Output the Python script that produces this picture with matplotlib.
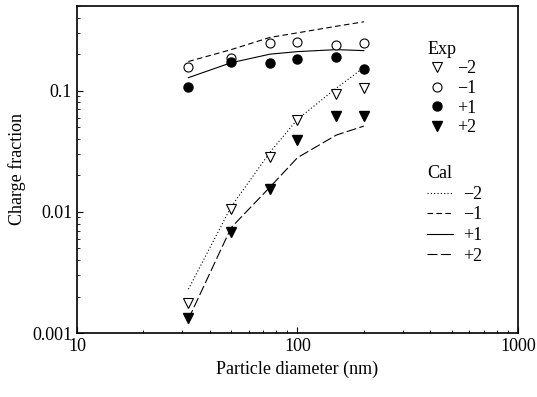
import numpy as np
import matplotlib
matplotlib.use("Agg")
import matplotlib.pyplot as plt
from matplotlib.lines import Line2D

plt.rcParams["font.family"] = ["Liberation Serif", "DejaVu Serif"]

diameter = [32, 50, 75, 100, 150, 200]

# experimental charge fractions
exp_m2 = [0.00177, 0.0106, 0.0285, 0.0575, 0.093, 0.105]
exp_m1 = [0.158, 0.185, 0.249, 0.254, 0.24, 0.245]
exp_p1 = [0.108, 0.174, 0.17, 0.184, 0.19, 0.152]
exp_p2 = [0.00133, 0.0068, 0.0155, 0.039, 0.062, 0.062]

# calculated charge fractions
cal_m2 = [0.0023, 0.011, 0.031, 0.058, 0.105, 0.155]
cal_m1 = [0.174, 0.218, 0.275, 0.30, 0.34, 0.37]
cal_p1 = [0.128, 0.17, 0.20, 0.21, 0.218, 0.214]
cal_p2 = [0.0013, 0.0074, 0.016, 0.028, 0.043, 0.051]

fig = plt.figure(figsize=(5.37, 3.97), dpi=100)
ax = fig.add_axes([0.1434, 0.1612, 0.8212, 0.8238])

ax.plot(diameter, cal_m2, color="black", lw=0.8, ls=(0, (1, 2)))
ax.plot(diameter, cal_m1, color="black", lw=0.8, ls=(0, (5, 3)))
ax.plot(diameter, cal_p1, color="black", lw=0.8, ls="-")
ax.plot(diameter, cal_p2, color="black", lw=0.8, ls=(0, (9, 3)))

ms = 6.5
ax.plot(diameter, exp_m2, "v", mfc="white", mec="black", mew=0.8, ms=ms, ls="none")
ax.plot(diameter, exp_m1, "o", mfc="white", mec="black", mew=0.8, ms=ms, ls="none")
ax.plot(diameter, exp_p1, "o", mfc="black", mec="black", ms=ms, ls="none")
ax.plot(diameter, exp_p2, "v", mfc="black", mec="black", ms=ms, ls="none")

ax.set_xscale("log")
ax.set_yscale("log")
ax.set_xlim(10, 1000)
ax.set_ylim(0.001, 0.5)
ax.set_xticks([10, 100, 1000])
ax.set_xticklabels(["10", "100", "1000"])
ax.set_yticks([0.001, 0.01, 0.1])
ax.set_yticklabels(["0.001", "0.01", "0.1"])
ax.tick_params(which="both", direction="in", labelsize=13, top=False, right=False)
ax.tick_params(which="major", length=4)
ax.tick_params(which="minor", length=2)
for s in ax.spines.values():
    s.set_linewidth(1.2)

ax.set_xlabel("Particle diameter (nm)", fontsize=13)
ax.set_ylabel("Charge fraction", fontsize=13)

exp_handles = [
    Line2D([], [], marker="v", mfc="white", mec="black", mew=0.8, ms=ms, ls="none"),
    Line2D([], [], marker="o", mfc="white", mec="black", mew=0.8, ms=ms, ls="none"),
    Line2D([], [], marker="o", mfc="black", mec="black", ms=ms, ls="none"),
    Line2D([], [], marker="v", mfc="black", mec="black", ms=ms, ls="none"),
]
labels = ["\u22122", "\u22121", "+1", "+2"]
leg1 = ax.legend(exp_handles, labels, title="Exp", frameon=False, fontsize=13,
                 title_fontsize=13, alignment="left", loc="upper left",
                 bbox_to_anchor=(0.779, 0.916), handlelength=1.0, handletextpad=0.6,
                 labelspacing=0.15, borderaxespad=0)
ax.add_artist(leg1)

cal_handles = [
    Line2D([], [], color="black", lw=0.8, ls=(0, (1, 2))),
    Line2D([], [], color="black", lw=0.8, ls=(0, (5, 3))),
    Line2D([], [], color="black", lw=0.8, ls="-"),
    Line2D([], [], color="black", lw=0.8, ls=(0, (9, 3))),
]
ax.legend(cal_handles, labels, title="Cal", frameon=False, fontsize=13,
          title_fontsize=13, alignment="left", loc="upper left",
          bbox_to_anchor=(0.778, 0.535), handlelength=1.4, handletextpad=0.6,
          labelspacing=0.2, borderaxespad=0)

fig.savefig("out.png", dpi=100)
